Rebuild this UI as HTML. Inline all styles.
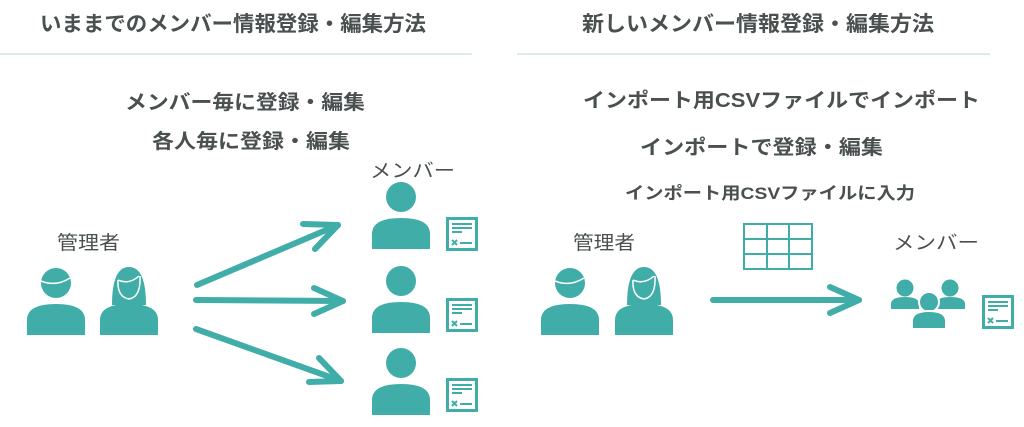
<!DOCTYPE html>
<html><head><meta charset="utf-8"><style>
html,body{margin:0;padding:0;background:#fff;}
svg{display:block;}
text{font-family:"Liberation Sans","Noto Sans CJK JP",sans-serif;fill:#4a4f4f;}
.b{font-weight:bold;}
</style></head><body>
<svg width="1024" height="427" viewBox="0 0 1024 427" xmlns="http://www.w3.org/2000/svg">
<defs>
<g id="person">
  <circle cx="0" cy="0" r="15" fill="#41ada8"/>
  <path d="M-29 52 V37 Q-29 21 0 21 Q29 21 29 37 V52 Z" fill="#41ada8"/>
</g>
<g id="man">
  <circle cx="0" cy="0" r="15" fill="#41ada8"/>
  <path d="M-15 -2 Q0 4 14 -5" stroke="#fff" stroke-width="1.5" fill="none"/>
  <path d="M-29 52 V37 Q-29 21 0 21 Q29 21 29 37 V52 Z" fill="#41ada8"/>
</g>
<g id="woman">
  <path d="M-17 22 Q-17 -16 0 -16 Q17 -16 17 22 Z" fill="#41ada8"/>
  <path d="M-11 -3 Q0 2 10 -7 M-11 -3 Q-12 14 0 16 Q12 14 11 -7" stroke="#fff" stroke-width="1.5" fill="none"/>
  <path d="M-29 52 V37 Q-29 21 0 21 Q29 21 29 37 V52 Z" fill="#41ada8"/>
</g>
<g id="doc">
  <rect x="1.5" y="1.5" width="29" height="31" fill="#fff" stroke="#41ada8" stroke-width="3"/>
  <rect x="6" y="6" width="20" height="2" fill="#41ada8"/>
  <rect x="6" y="10" width="20" height="2" fill="#41ada8"/>
  <rect x="6" y="14" width="10" height="2" fill="#41ada8"/>
  <path d="M6 23 L11 28 M11 23 L6 28" stroke="#41ada8" stroke-width="2"/>
  <rect x="14" y="25" width="12" height="2" fill="#41ada8"/>
</g>
</defs>

<!-- titles -->
<text x="40" y="31" font-size="21" class="b" textLength="386" lengthAdjust="spacingAndGlyphs">いままでのメンバー情報登録・編集方法</text>
<line x1="0" y1="54" x2="472" y2="54" stroke="#cfe3e3" stroke-width="1.5"/>
<text x="582" y="31" font-size="21" class="b" textLength="352" lengthAdjust="spacingAndGlyphs">新しいメンバー情報登録・編集方法</text>
<line x1="517" y1="54" x2="990" y2="54" stroke="#cfe3e3" stroke-width="1.5"/>

<!-- left texts -->
<text x="125" y="109" font-size="20" class="b" textLength="240" lengthAdjust="spacingAndGlyphs">メンバー毎に登録・編集</text>
<text x="152" y="148" font-size="20" class="b" textLength="198" lengthAdjust="spacingAndGlyphs">各人毎に登録・編集</text>
<text x="370" y="177" font-size="19" textLength="85" lengthAdjust="spacingAndGlyphs">メンバー</text>
<text x="57" y="249" font-size="19" textLength="63" lengthAdjust="spacingAndGlyphs">管理者</text>

<!-- left icons -->
<use href="#man" x="56" y="283"/>
<use href="#woman" x="129" y="283"/>
<use href="#person" x="401" y="197"/>
<use href="#person" x="401" y="281"/>
<use href="#person" x="401" y="363"/>
<use href="#doc" x="446" y="217"/>
<use href="#doc" x="446" y="298"/>
<use href="#doc" x="446" y="378"/>

<!-- left arrows -->
<g stroke="#41ada8" stroke-width="6" stroke-linecap="round" fill="none" stroke-linejoin="round">
  <path d="M197 285 L338 225"/><path d="M303 224 L338 225 L315 249"/>
  <path d="M196 300 L343 301"/><path d="M314 288 L343 301 L314 314"/>
  <path d="M196 329 L341 381"/><path d="M319 358 L341 381 L309 382"/>
  <path d="M713 300 L859 300"/><path d="M830 287 L859 300 L830 313"/>
</g>

<!-- right texts -->
<text x="583" y="107" font-size="20" class="b" textLength="397" lengthAdjust="spacingAndGlyphs">インポート用CSVファイルでインポート</text>
<text x="640" y="154" font-size="20" class="b" textLength="243" lengthAdjust="spacingAndGlyphs">インポートで登録・編集</text>
<text x="625" y="199" font-size="17" class="b" textLength="290" lengthAdjust="spacingAndGlyphs">インポート用CSVファイルに入力</text>
<text x="573" y="249" font-size="19" textLength="62" lengthAdjust="spacingAndGlyphs">管理者</text>
<text x="893" y="249" font-size="19" textLength="86" lengthAdjust="spacingAndGlyphs">メンバー</text>

<!-- right icons -->
<use href="#man" x="570" y="283"/>
<use href="#woman" x="644" y="283"/>
<g stroke="#41ada8" stroke-width="2" fill="none">
  <rect x="744" y="224" width="68" height="45"/>
  <line x1="744" y1="239" x2="812" y2="239"/>
  <line x1="744" y1="254" x2="812" y2="254"/>
  <line x1="767" y1="224" x2="767" y2="269"/>
  <line x1="789" y1="224" x2="789" y2="269"/>
</g>
<g fill="#41ada8">
  <circle cx="905" cy="288" r="8.5"/>
  <path d="M891 309 V304 Q891 297 905 297 Q919 297 919 304 V309 Z"/>
  <circle cx="950" cy="288" r="8.5"/>
  <path d="M936 309 V304 Q936 297 950 297 Q965 297 965 304 V309 Z"/>
  <circle cx="929" cy="302" r="10" stroke="#fff" stroke-width="2"/>
  <path d="M912 329 V321 Q912 311 929 311 Q946 311 946 321 V329 Z" stroke="#fff" stroke-width="2"/>
</g>
<use href="#doc" x="982" y="295"/>
</svg>
</body></html>
